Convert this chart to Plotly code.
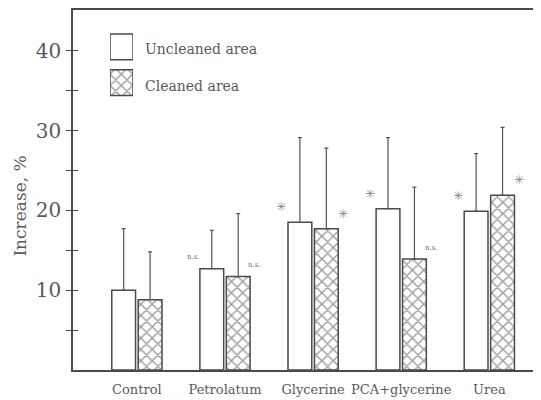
import plotly.graph_objects as go

categories = ["Control", "Petrolatum", "Glycerine", "PCA+glycerine", "Urea"]
uncleaned = [10.0, 12.7, 18.5, 20.2, 19.9]
uncleaned_sd = [7.7, 4.8, 10.6, 8.9, 7.2]
cleaned = [8.8, 11.7, 17.7, 13.9, 21.9]
cleaned_sd = [6.0, 7.9, 10.1, 9.0, 8.5]
y_tick_vals = [5, 10, 15, 20, 25, 30, 35, 40]
y_tick_text = ["", "10", "", "20", "", "30", "", "40"]
# significance marks: (category index, series, label)
marks = [(1, "u", "n.s."), (1, "c", "n.s."), (2, "u", "*"), (2, "c", "*"),
         (3, "u", "*"), (3, "c", "n.s."), (4, "u", "*"), (4, "c", "*")]
legend_labels = ["Uncleaned area", "Cleaned area"]

LINE = "#4a4a4a"
TXT = "#5a5a5a"
SERIF = "DejaVu Serif"
PAT = dict(fgcolor="#3a3a3a", bgcolor="white", size=8, solidity=0.32)

xs = list(range(len(categories)))
fig = go.Figure()
fig.add_trace(go.Bar(
    x=xs, y=uncleaned, width=0.27, offset=-0.285,
    marker=dict(color="white", line=dict(color=LINE, width=1.5)),
    error_y=dict(type="data", array=uncleaned_sd, arrayminus=[0]*5, symmetric=False,
                 color="#555", thickness=1.2, width=2),
    showlegend=False))
fig.add_trace(go.Bar(
    x=xs, y=cleaned, width=0.27, offset=0.015,
    marker=dict(color="white", line=dict(color=LINE, width=1.5),
                pattern=dict(shape="x", **PAT)),
    error_y=dict(type="data", array=cleaned_sd, arrayminus=[0]*5, symmetric=False,
                 color="#555", thickness=1.2, width=2),
    showlegend=False))

# legend boxes drawn on a hidden axis pair
fig.add_trace(go.Bar(
    x=[1, 1], y=[1, 0], orientation="h", width=0.72, xaxis="x2", yaxis="y5",
    marker=dict(color="white", line=dict(color=LINE, width=1.5),
                pattern=dict(shape=["", "x"], **PAT)),
    showlegend=False, hoverinfo="skip"))

annotations = []
for idx, ser, lab in marks:
    base = uncleaned[idx] if ser == "u" else cleaned[idx]
    x = idx - 0.36 if ser == "u" else idx + 0.34
    if lab == "*":
        annotations.append(dict(x=x, y=base + 1.9, xref="x", yref="y", text="✳",
                                showarrow=False, xanchor="center", yanchor="middle",
                                font=dict(family="DejaVu Sans", size=12, color="#8a8a8a")))
    else:
        annotations.append(dict(x=x, y=base + 1.4, xref="x", yref="y", text=lab,
                                showarrow=False, xanchor="center", yanchor="middle",
                                font=dict(family=SERIF, size=7, color="#666")))

for i, lab in enumerate(legend_labels):
    annotations.append(dict(x=0.150, y=[0.892, 0.790][i], xref="paper", yref="paper",
                            xanchor="left", yanchor="middle", text=lab, showarrow=False,
                            font=dict(family=SERIF, size=14, color=TXT)))

annotations.append(dict(x=-0.114, y=0.456, xref="paper", yref="paper", text="Increase, %",
                        textangle=-90, showarrow=False, xanchor="center", yanchor="middle",
                        font=dict(family=SERIF, size=17, color=TXT)))

fig.update_layout(
    width=533, height=392,
    margin=dict(l=65, r=1, t=0, b=30),
    paper_bgcolor="white", plot_bgcolor="white",
    barmode="overlay",
    xaxis=dict(range=[-0.725, 4.575], tickvals=xs, ticktext=categories, showgrid=False,
               zeroline=False, showline=True, linecolor=LINE, linewidth=1.5, mirror=True,
               ticks="", ticklabelstandoff=7, tickfont=dict(family=SERIF, size=13, color=TXT)),
    yaxis=dict(range=[0, 45.1], tickvals=y_tick_vals, ticktext=y_tick_text, showgrid=False,
               zeroline=False, showline=True, linecolor=LINE, linewidth=1.5,
               ticks="outside", ticklen=5, tickcolor=LINE, tickwidth=1.2,
               ticklabelstandoff=1,
               tickfont=dict(family=SERIF, size=20, color=TXT)),
    yaxis2=dict(range=[0, 45.1], overlaying="y", tickvals=y_tick_vals, showticklabels=False,
                ticks="inside", ticklen=5, tickcolor=LINE, tickwidth=1.2, showgrid=False,
                zeroline=False, showline=False),
    yaxis3=dict(range=[0, 45.1], overlaying="y", side="right", tickvals=y_tick_vals,
                showticklabels=False, ticks="inside", ticklen=5, tickcolor=LINE, tickwidth=1.2,
                showgrid=False, zeroline=False, showline=False),
    xaxis2=dict(domain=[0.0792, 0.1285], range=[0, 1], visible=False, anchor="y5"),
    yaxis5=dict(domain=[0.7486, 0.9475], range=[-0.5, 1.5], visible=False, anchor="x2"),
    annotations=annotations,
)
# dummy traces so overlay axes render
fig.add_trace(go.Scatter(x=[0], y=[0], yaxis="y2", mode="markers", marker=dict(opacity=0),
                         showlegend=False, hoverinfo="skip"))
fig.add_trace(go.Scatter(x=[0], y=[0], yaxis="y3", mode="markers", marker=dict(opacity=0),
                         showlegend=False, hoverinfo="skip"))
fig.write_html("out.html")
